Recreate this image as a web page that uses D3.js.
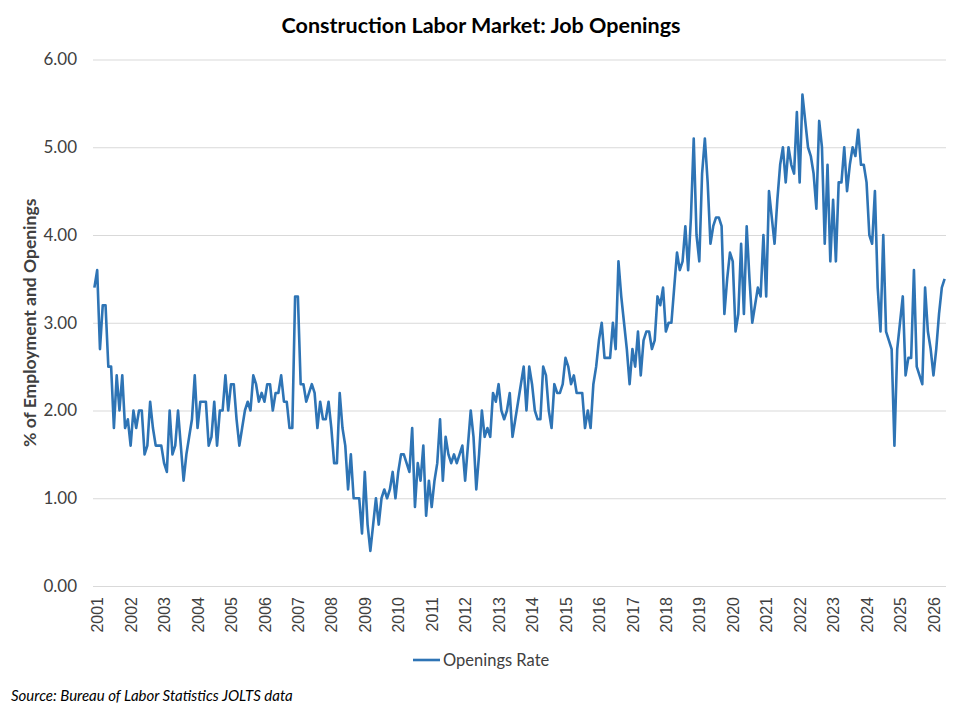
<!DOCTYPE html>
<html>
<head>
<meta charset="utf-8">
<script src="https://cdn.jsdelivr.net/npm/d3@7/dist/d3.min.js"></script>
<style>
  html, body { margin: 0; padding: 0; background: #fff; }
  svg { display: block; }
</style>
</head>
<body>
<svg id="chart" width="960" height="720"></svg>
<script>
// ---- DATA ----
const chartTitle = "Construction Labor Market: Job Openings";
const yAxisTitle = "% of Employment and Openings";
const seriesName = "Openings Rate";
const sourceNote = "Source: Bureau of Labor Statistics JOLTS data";
const startYear = 2000, startMonth = 12; // first observation: Dec 2000
const yTicks = [0, 1, 2, 3, 4, 5, 6];
const yearLabels = [2001,2002,2003,2004,2005,2006,2007,2008,2009,2010,2011,2012,2013,
  2014,2015,2016,2017,2018,2019,2020,2021,2022,2023,2024,2025,2026];
const openingsRate = [
  3.4,
  3.6,2.7,3.2,3.2,2.5,2.5,1.8,2.4,2.0,2.4,1.8,1.9,
  1.6,2.0,1.8,2.0,2.0,1.5,1.6,2.1,1.8,1.6,1.6,1.6,
  1.4,1.3,2.0,1.5,1.6,2.0,1.6,1.2,1.5,1.7,1.9,2.4,
  1.8,2.1,2.1,2.1,1.6,1.7,2.1,1.6,2.0,2.0,2.4,2.0,
  2.3,2.3,1.9,1.6,1.8,2.0,2.1,2.0,2.4,2.3,2.1,2.2,
  2.1,2.3,2.3,2.0,2.2,2.2,2.4,2.1,2.1,1.8,1.8,3.3,
  3.3,2.3,2.3,2.1,2.2,2.3,2.2,1.8,2.1,1.9,1.9,2.1,
  1.8,1.4,1.4,2.2,1.8,1.6,1.1,1.5,1.0,1.0,1.0,0.6,
  1.3,0.7,0.4,0.7,1.0,0.7,1.0,1.1,1.0,1.1,1.3,1.0,
  1.3,1.5,1.5,1.4,1.3,1.8,0.9,1.4,1.2,1.6,0.8,1.2,
  0.9,1.2,1.4,1.9,1.2,1.7,1.5,1.4,1.5,1.4,1.5,1.6,
  1.2,1.6,2.0,1.7,1.1,1.5,2.0,1.7,1.8,1.7,2.2,2.1,
  2.3,2.0,1.9,2.0,2.2,1.7,1.9,2.1,2.3,2.5,2.0,2.5,
  2.3,2.0,1.9,1.9,2.5,2.4,2.0,1.8,2.3,2.2,2.2,2.3,
  2.6,2.5,2.3,2.4,2.2,2.2,2.2,1.8,2.0,1.8,2.3,2.5,
  2.8,3.0,2.6,2.6,2.6,3.0,2.7,3.7,3.3,3.0,2.7,2.3,
  2.7,2.5,2.9,2.4,2.8,2.9,2.9,2.7,2.8,3.3,3.2,3.4,
  2.9,3.0,3.0,3.4,3.8,3.6,3.7,4.1,3.6,4.2,5.1,4.0,
  3.7,4.7,5.1,4.6,3.9,4.1,4.2,4.2,4.1,3.1,3.5,3.8,
  3.7,2.9,3.1,3.9,3.1,4.1,3.5,3.0,3.2,3.4,3.3,4.0,
  3.3,4.5,4.2,3.9,4.4,4.8,5.0,4.6,5.0,4.8,4.7,5.4,
  4.6,5.6,5.3,5.0,4.9,4.7,4.3,5.3,5.0,3.9,4.8,3.7,
  4.4,3.7,4.6,4.6,5.0,4.5,4.8,5.0,4.9,5.2,4.8,4.8,
  4.6,4.0,3.9,4.5,3.4,2.9,4.0,2.9,2.8,2.7,1.6,2.7,
  3.0,3.3,2.4,2.6,2.6,3.6,2.5,2.4,2.3,3.4,2.9,2.7,
  2.4,2.7,3.1,3.4,3.5
];

// ---- LAYOUT ----
const W = 960, H = 720;
const plot = { left: 93, right: 946, top: 59.5, bottom: 586 };
const lineColor = "#2e74b5";
const textColor = "#404040";
const gridColor = "#d9d9d9";
const font = "Lato, 'Open Sans', sans-serif";

const svg = d3.select("#chart");
const n = openingsRate.length;
const data = openingsRate.map((v, i) => ({ i, v }));

const x = d3.scaleLinear().domain([-0.5, n - 0.5]).range([plot.left, plot.right]);
const y = d3.scaleLinear().domain([0, 6]).range([plot.bottom, plot.top]);

// Title
svg.append("text")
  .attr("x", 481).attr("y", 33)
  .attr("text-anchor", "middle")
  .style("font-family", font).style("font-weight", "bold")
  .style("font-size", "21.5px").style("fill", "#000")
  .text(chartTitle);

// Y axis with gridlines
const yAxis = svg.append("g")
  .attr("transform", `translate(${plot.left},0)`)
  .call(d3.axisLeft(y).tickValues(yTicks).tickFormat(d3.format(".2f"))
    .tickSize(-(plot.right - plot.left)).tickPadding(16));
yAxis.select(".domain").remove();
yAxis.selectAll(".tick line").attr("stroke", gridColor).attr("stroke-width", 1);
yAxis.selectAll(".tick text")
  .style("font-family", font).style("font-size", "17px").style("fill", textColor);

// X axis labels (January of each year)
const monthIndex = yr => (yr - startYear) * 12 + (1 - startMonth);
const xAxis = svg.append("g")
  .attr("transform", `translate(0,${plot.bottom})`)
  .call(d3.axisBottom(x).tickValues(yearLabels.map(monthIndex))
    .tickFormat(i => String(yearLabels[yearLabels.map(monthIndex).indexOf(i)]))
    .tickSize(0).tickPadding(0));
xAxis.select(".domain").remove();
xAxis.selectAll(".tick text")
  .attr("transform", "rotate(-90)")
  .attr("x", -11).attr("y", 0).attr("dy", "0.35em")
  .style("text-anchor", "end")
  .style("font-family", "'Liberation Sans', Arial, sans-serif")
  .style("font-size", "16px").style("fill", textColor);

// Y axis title
svg.append("text")
  .attr("transform", `translate(36,${(plot.top + plot.bottom) / 2}) rotate(-90)`)
  .attr("text-anchor", "middle")
  .style("font-family", font).style("font-weight", "bold")
  .style("font-size", "17.5px").style("fill", textColor)
  .text(yAxisTitle);

// Line
const line = d3.line().x(d => x(d.i)).y(d => y(d.v));
svg.append("path")
  .datum(data)
  .attr("d", line)
  .attr("fill", "none")
  .attr("stroke", lineColor)
  .attr("stroke-width", 2.6)
  .attr("stroke-linejoin", "round");

// Legend
const lg = svg.append("g").attr("transform", "translate(413,660)");
lg.append("line").attr("x1", 0).attr("x2", 27).attr("y1", 0).attr("y2", 0)
  .attr("stroke", lineColor).attr("stroke-width", 2.6);
lg.append("text").attr("x", 30).attr("y", 0).attr("dy", "0.35em")
  .style("font-family", font).style("font-size", "16.5px").style("fill", textColor)
  .text(seriesName);

// Source
svg.append("text")
  .attr("x", 11).attr("y", 701)
  .style("font-family", font).style("font-style", "italic")
  .style("font-size", "15px").style("fill", "#000")
  .text(sourceNote);
</script>
</body>
</html>
